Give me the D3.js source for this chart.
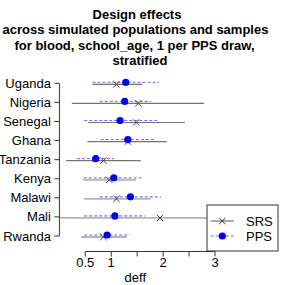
<!DOCTYPE html>
<html><head><meta charset="utf-8">
<script src="https://cdn.jsdelivr.net/npm/d3@7"></script>
<style>body{margin:0;background:#fff}svg{display:block}text{font-family:"Liberation Sans",Arial,sans-serif}</style>
</head><body><div id="chart"></div>
<script>
const titleLines = ["Design effects","across simulated populations and samples","for blood, school_age, 1 per PPS draw,","stratified"];
const countries = ["Uganda","Nigeria","Senegal","Ghana","Tanzania","Kenya","Malawi","Mali","Rwanda"];
const srsEst = [1.10,1.52,1.48,1.32,0.85,0.96,1.10,1.94,0.85];
const srsLo  = [0.64,0.24,0.55,0.54,0.13,0.46,0.47,-0.10,0.42];
const srsHi  = [1.60,2.79,2.42,2.07,1.57,1.48,1.76,3.02,1.30];
const ppsEst = [1.28,1.26,1.17,1.32,0.70,1.05,1.37,1.07,0.92];
const ppsLo  = [0.64,0.78,0.48,0.80,0.34,0.47,0.78,0.48,0.48];
const ppsHi  = [1.92,1.77,1.88,1.86,1.06,1.62,1.96,1.65,1.36];
const xTicks = [0.5,1,1.5,2,2.5,3];
const xTickLabels = ["0.5","1","","2","","3"];
const legendLabels = ["SRS","PPS"];

const W=285,H=285;
const svg=d3.select("#chart").append("svg").attr("width",W).attr("height",H);
const x=d3.scaleLinear().domain([0.5,3]).range([85.3,215]);
const y=d3.scalePoint().domain(countries).range([83.3,236]);
const plotL=59.4, plotR=278, plotB=251.5;
const FS=13;

svg.append("defs").append("clipPath").attr("id","clip").append("rect")
  .attr("x",plotL).attr("y",60).attr("width",plotR-plotL).attr("height",plotB-60);

// title
const titleX=[137,135.5,134.5,140];
svg.selectAll("text.title").data(titleLines).join("text").attr("class","title")
  .attr("x",(d,i)=>titleX[i]).attr("y",(d,i)=>19+i*15.3).attr("text-anchor","middle")
  .attr("font-weight","bold").attr("font-size",FS).text(d=>d);

const g=svg.append("g").attr("clip-path","url(#clip)");
const rows=countries.map((c,i)=>({c,i,se:srsEst[i],sl:srsLo[i],sh:srsHi[i],pe:ppsEst[i],pl:ppsLo[i],ph:ppsHi[i]}));

// SRS lines
g.selectAll("line.srs").data(rows).join("line").attr("class","srs")
  .attr("x1",d=>x(d.sl)).attr("x2",d=>x(d.sh))
  .attr("y1",d=>y(d.c)+1).attr("y2",d=>y(d.c)+1)
  .attr("stroke",d=>d.i<5?"#737373":"#b5b5b5").attr("stroke-width",d=>d.i<5?1.2:1.8);
// PPS dashed lines
g.selectAll("line.pps").data(rows).join("line").attr("class","pps")
  .attr("x1",d=>x(d.pl)).attr("x2",d=>x(d.ph))
  .attr("y1",d=>y(d.c)-1).attr("y2",d=>y(d.c)-1)
  .attr("stroke",d=>d.i<5?"#6b6bff":"#9a9aff").attr("stroke-width",d=>d.i<5?1:1.6)
  .attr("stroke-dasharray","3,2");

function cross(sel,cx,cy,s,col){
  sel.append("path").attr("d",`M${cx-s},${cy-s}L${cx+s},${cy+s}M${cx-s},${cy+s}L${cx+s},${cy-s}`)
    .attr("stroke",col).attr("stroke-width",1).attr("fill","none");
}
rows.forEach(d=>{ cross(g,x(d.se),y(d.c)+1,3.2,"#444"); });
g.selectAll("circle.pps").data(rows).join("circle").attr("class","pps")
  .attr("cx",d=>x(d.pe)).attr("cy",d=>y(d.c)-1).attr("r",3.6).attr("fill","#0000ff");

// y axis
const ya=svg.append("g");
ya.append("line").attr("x1",plotL).attr("x2",plotL).attr("y1",y(countries[0])).attr("y2",y(countries[countries.length-1])).attr("stroke","#333");
ya.selectAll("line.t").data(countries).join("line").attr("class","t")
  .attr("x1",plotL-5).attr("x2",plotL).attr("y1",d=>y(d)).attr("y2",d=>y(d)).attr("stroke","#333");
ya.selectAll("text").data(countries).join("text")
  .attr("x",plotL-8.5).attr("y",d=>y(d)+4.5).attr("text-anchor","end").attr("font-size",FS).text(d=>d);

// x axis
const xa=svg.append("g");
xa.append("line").attr("x1",x(xTicks[0])).attr("x2",x(xTicks[xTicks.length-1])).attr("y1",plotB).attr("y2",plotB).attr("stroke","#333");
xa.selectAll("line.t").data(xTicks).join("line").attr("class","t")
  .attr("x1",d=>x(d)).attr("x2",d=>x(d)).attr("y1",plotB).attr("y2",plotB+5).attr("stroke","#333");
xa.selectAll("text").data(xTicks).join("text")
  .attr("x",d=>x(d)).attr("y",266.5).attr("text-anchor","middle").attr("font-size",FS)
  .text((d,i)=>xTickLabels[i]);
svg.append("text").attr("x",135.3).attr("y",282).attr("text-anchor","middle").attr("font-size",FS).text("deff");

// legend
const lg=svg.append("g");
lg.append("rect").attr("x",207).attr("y",205).attr("width",71).attr("height",46)
  .attr("fill","#fff").attr("stroke","#333").attr("stroke-width",1);
lg.append("line").attr("x1",210.7).attr("x2",234).attr("y1",221).attr("y2",221).attr("stroke","#555");
cross(lg,222.3,221,3.2,"#333");
lg.append("line").attr("x1",210.7).attr("x2",234).attr("y1",236).attr("y2",236).attr("stroke","#6b6bff").attr("stroke-dasharray","3,2");
lg.append("circle").attr("cx",222.3).attr("cy",236).attr("r",3.6).attr("fill","#0000ff");
lg.selectAll("text").data(legendLabels).join("text")
  .attr("x",246).attr("y",(d,i)=>225.5+i*15).attr("font-size",FS).text(d=>d);
</script></body></html>
